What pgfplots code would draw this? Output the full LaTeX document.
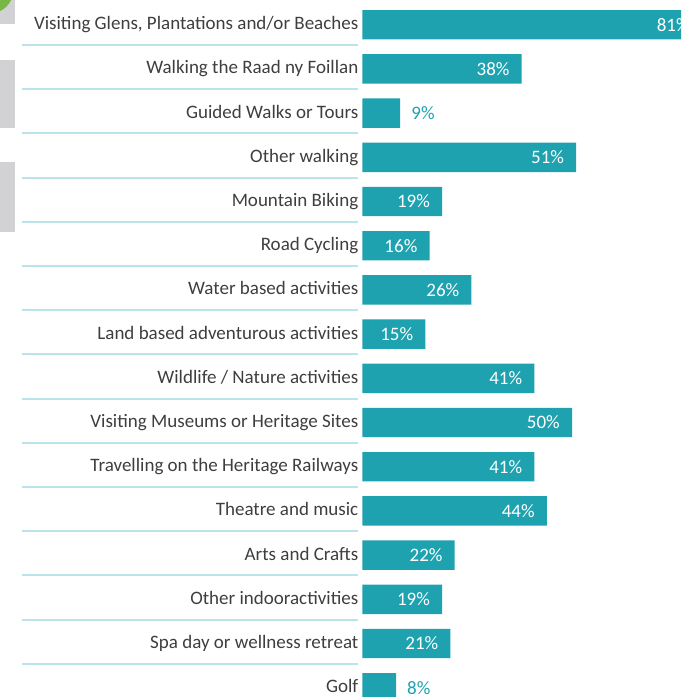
\documentclass[border=0pt]{standalone}
\usepackage{pgfplots}
\pgfplotsset{compat=1.18}
\usepackage{fontspec}
\setmainfont{Carlito}
\definecolor{teal}{RGB}{30,162,175}
\definecolor{sepcol}{RGB}{184,229,234}
\definecolor{labcol}{RGB}{62,62,62}
\definecolor{decogray}{RGB}{210,210,213}
\definecolor{decogreen}{RGB}{120,182,70}
\begin{document}
\begin{tikzpicture}[x=1pt,y=1pt]
\useasboundingbox (0,0) rectangle (681,697);
\clip (0,0) rectangle (681,697);
% decorative page-edge elements
\fill[decogray] (0,697) rectangle (15,673);
\fill[decogreen] (-9,706) circle (22);
\fill[decogray] (0,637) rectangle (15,569);
\fill[decogray] (0,535.3) rectangle (15,465.3);
\begin{axis}[
  at={(362.5pt,694.4pt)}, anchor=north west,
  x=4.19pt, y=44.2pt, y dir=reverse,
  xmin=0, xmax=76.0, ymin=-0.5, ymax=15.5,
  clip=false,
  /pgf/number format/assume math mode=true,
  axis x line=none,
  axis y line*=left,
  y axis line style={draw=none},
  ytick style={draw=none},
  major tick length=0pt,
  ytick={0,...,15},
  yticklabels={
    {Visiting Glens, Plantations and/or Beaches},
    {Walking the Raad ny Foillan},
    {Guided Walks or Tours},
    {Other walking},
    {Mountain Biking},
    {Road Cycling},
    {Water based activities},
    {Land based adventurous activities},
    {Wildlife / Nature activities},
    {Visiting Museums or Heritage Sites},
    {Travelling on the Heritage Railways},
    {Theatre and music},
    {Arts and Crafts},
    {Other indooractivities},
    {Spa day or wellness retreat},
    {Golf}},
  yticklabel style={font=\fontsize{19}{19}\selectfont, text=labcol, anchor=base east, inner sep=0pt, xshift=-4pt, yshift=-5pt},
  xbar, bar width=29.4pt, bar shift=0pt,
  point meta=x,
]
\addplot[fill=teal, draw=none,
  nodes near coords={\pgfmathprintnumber{\pgfplotspointmeta}\%},
  nodes near coords style={anchor=east, xshift=-12pt, text=white, font=\fontsize{19}{19}\selectfont, inner sep=0pt}]
  coordinates {
    (81,0) (38,1) (51,3) (19,4) (16,5) (26,6) (15,7) (41,8)
    (50,9) (41,10) (44,11) (22,12) (19,13) (21,14)
  };
\addplot[fill=teal, draw=none,
  nodes near coords={\pgfmathprintnumber{\pgfplotspointmeta}\%},
  nodes near coords style={anchor=west, xshift=11pt, text=teal, font=\fontsize{19}{19}\selectfont, inner sep=0pt}]
  coordinates {
    (9,2) (8,15)
  };
\pgfplotsinvokeforeach{0,...,14}{
  \draw[sepcol, line width=2pt] (axis cs:-81.3,#1+0.46) -- (axis cs:-1.07,#1+0.46);
}
\end{axis}
\end{tikzpicture}
\end{document}
